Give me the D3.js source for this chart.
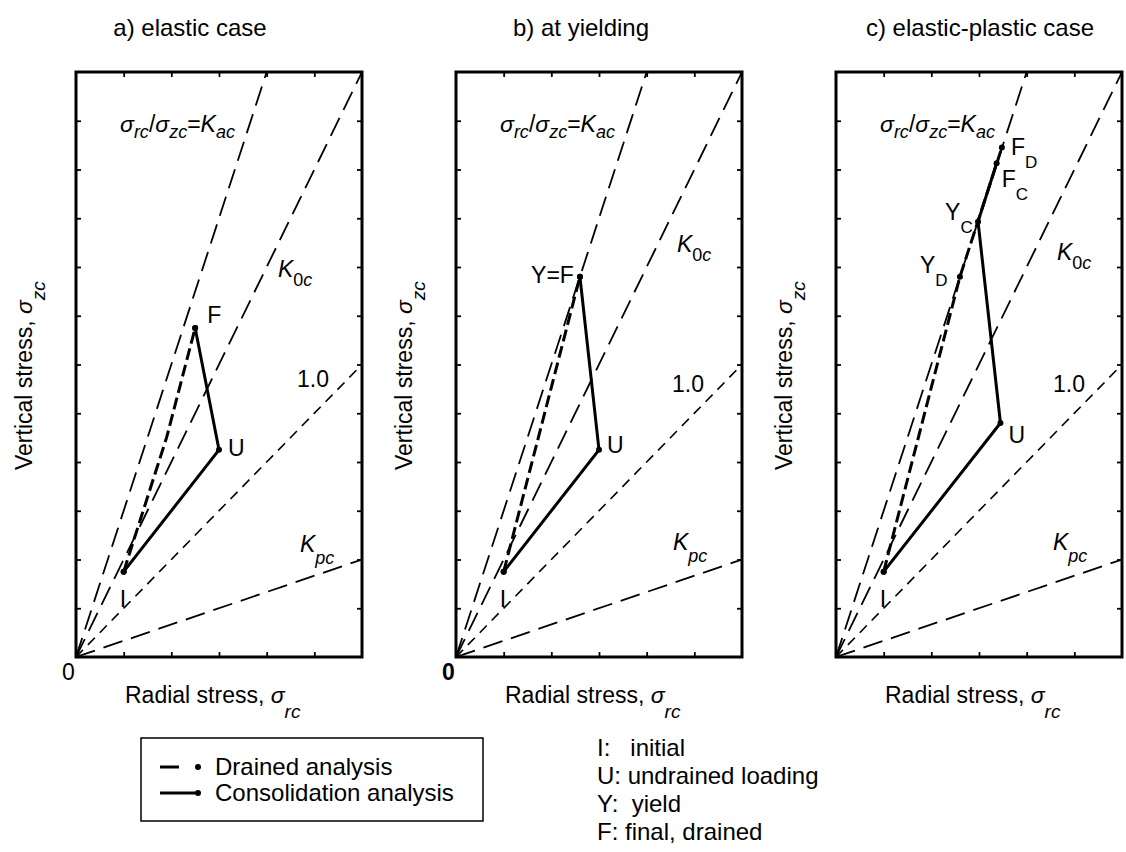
<!DOCTYPE html>
<html>
<head>
<meta charset="utf-8">
<script src="https://cdn.jsdelivr.net/npm/d3@7"></script>
<style>
  html, body { margin: 0; padding: 0; background: #fff; }
  svg { display: block; }
  text { font-family: "Liberation Sans", Arial, Helvetica, sans-serif; fill: #000; }
  .title { font-family: "Liberation Sans Narrow", "Arial Narrow", "Liberation Sans", Arial, sans-serif; }
</style>
</head>
<body>
<svg id="chart" width="1126" height="852"></svg>
<script>
// Panel titles
const panelTitles = ["a) elastic case", "b) at yielding", "c) elastic-plastic case"];

// Axis extents and tick values (stress, arbitrary units)
const xDomain = [0, 6];
const yDomain = [0, 12];
const xTicks = [1, 2, 3, 4, 5];
const yTicks = [1, 2, 3, 4, 5, 6, 7, 8, 9, 10, 11];

// Stress-ratio lines through the origin: slope = sigma_zc / sigma_rc
const ratioNames = ["Kac", "K0c", "one", "Kpc"];
const ratioSlopes = [3, 2, 1, 1 / 3];

// Stress paths [sigma_rc, sigma_zc] for each panel
const drainedA = [[1, 1.75], [1.9, 4.5], [2.5, 6.75]];
const consolA  = [[1, 1.75], [3, 4.25], [2.5, 6.75]];
const drainedB = [[1, 1.75], [2.6, 7.8]];
const consolB  = [[1, 1.75], [3, 4.25], [2.6, 7.8]];
const drainedC = [[1, 1.75], [2.6, 7.8], [3.48, 10.45]];
const consolC  = [[1, 1.75], [3.45, 4.8], [2.98, 8.93], [3.37, 10.13]];

// Key legend entries
const legendNames = ["Drained analysis", "Consolidation analysis"];
const stageNotes = ["I:   initial", "U: undrained loading", "Y:  yield", "F: final, drained"];

const svg = d3.select("#chart");
const W = 286, H = 585;            // plot area size
const panelLeft = [76, 456, 836];
const panelTop = 72;

const x = d3.scaleLinear().domain(xDomain).range([0, W]);
const y = d3.scaleLinear().domain(yDomain).range([H, 0]);

// Writes text made of runs: {t, it (italic), sub (subscript), size}
function richText(sel, parts, opt) {
  const txt = sel.append("text")
    .attr("x", opt.x).attr("y", opt.y)
    .attr("font-size", opt.size)
    .attr("text-anchor", opt.anchor || "start")
    .attr("xml:space", "preserve");
  if (opt.transform) txt.attr("transform", opt.transform);
  let shifted = 0;
  parts.forEach(p => {
    const ts = txt.append("tspan").text(p.t);
    if (p.it) ts.attr("font-style", "italic");
    const want = p.sub ? (p.drop != null ? p.drop : opt.drop) : 0;
    if (want !== shifted) { ts.attr("dy", want - shifted); shifted = want; }
    if (p.sub) ts.attr("font-size", p.size || opt.subSize);
  });
  return txt;
}

const lineStyles = {
  Kac: { dash: "20,9", w: 1.8 },
  K0c: { dash: "20,9", w: 1.8 },
  one: { dash: "10,7", w: 1.6 },
  Kpc: { dash: "20,9", w: 1.8 }
};

const panelData = [
  { drained: drainedA, consol: consolA },
  { drained: drainedB, consol: consolB },
  { drained: drainedC, consol: consolC }
];

const line = d3.line().x(d => x(d[0])).y(d => y(d[1]));

panelData.forEach((pd, i) => {
  const g = svg.append("g").attr("transform", `translate(${panelLeft[i]},${panelTop})`);

  g.append("clipPath").attr("id", "clip" + i)
    .append("rect").attr("width", W).attr("height", H);

  // Ratio lines through the origin, clipped to the frame
  const lg = g.append("g").attr("clip-path", `url(#clip${i})`);
  ratioSlopes.forEach((s, k) => {
    const st = lineStyles[ratioNames[k]];
    const xe = Math.min(xDomain[1], yDomain[1] / s);
    lg.append("path")
      .attr("d", line([[0, 0], [xe, xe * s]]))
      .attr("fill", "none").attr("stroke", "#000")
      .attr("stroke-width", st.w).attr("stroke-dasharray", st.dash);
  });

  // Drained path (thick dashed)
  lg.append("path").attr("d", line(pd.drained))
    .attr("fill", "none").attr("stroke", "#000")
    .attr("stroke-width", 3).attr("stroke-dasharray", "12,5");

  // Consolidation path (thick solid)
  lg.append("path").attr("d", line(pd.consol))
    .attr("fill", "none").attr("stroke", "#000")
    .attr("stroke-width", 3).attr("stroke-linejoin", "round");

  // Node markers
  const nodes = [pd.drained[0], pd.drained[pd.drained.length - 1]].concat(pd.consol);
  if (i === 2) nodes.push(pd.drained[1]);
  lg.selectAll("circle.node").data(nodes).join("circle")
    .attr("class", "node")
    .attr("cx", d => x(d[0])).attr("cy", d => y(d[1])).attr("r", 3);

  // Inward ticks on all four sides
  const tickStyle = a => a.tickSizeInner(-5).tickSizeOuter(0).tickFormat("");
  g.append("g").attr("transform", `translate(0,${H})`).call(tickStyle(d3.axisBottom(x).tickValues(xTicks)));
  g.append("g").call(tickStyle(d3.axisTop(x).tickValues(xTicks)));
  g.append("g").call(tickStyle(d3.axisLeft(y).tickValues(yTicks)));
  g.append("g").attr("transform", `translate(${W},0)`).call(tickStyle(d3.axisRight(y).tickValues(yTicks)));
  g.selectAll(".domain").remove();
  g.selectAll(".tick line").attr("stroke", "#000").attr("stroke-width", 1.8);

  // Frame
  g.append("rect").attr("width", W).attr("height", H)
    .attr("fill", "none").attr("stroke", "#000").attr("stroke-width", 3);

  // Titles
  svg.append("text").attr("class", "title")
    .attr("x", [190, 581, 980][i]).attr("y", 36)
    .attr("text-anchor", "middle").attr("font-size", 24)
    .text(panelTitles[i]);

  // Axis labels
  richText(g, [{ t: "Radial stress, " }, { t: "σ", it: true }, { t: "rc", it: true, sub: true }],
    { x: 49, y: 631, size: 23, subSize: 19, drop: 15 });
  richText(g, [{ t: "Vertical stress, " }, { t: "σ", it: true }, { t: "zc", it: true, sub: true }],
    { x: 0, y: 0, size: 23, subSize: 19, drop: 13, transform: `translate(-44,${H - 187}) rotate(-90)` });

  // Ratio-line labels
  richText(g, [{ t: "σ", it: true }, { t: "rc", it: true, sub: true }, { t: "/" }, { t: "σ", it: true },
               { t: "zc", it: true, sub: true }, { t: "=" }, { t: "K", it: true }, { t: "ac", it: true, sub: true }],
    { x: 44, y: 60, size: 23, subSize: 18, drop: 6 });
  const k0 = [[202, 205], [221, 180], [221, 188]][i];
  richText(g, [{ t: "K", it: true }, { t: "0", sub: true }, { t: "c", it: true, sub: true }],
    { x: k0[0], y: k0[1], size: 23, subSize: 18, drop: 9 });
  const one = [[221, 315], [216, 320], [217, 320]][i];
  g.append("text").attr("x", one[0]).attr("y", one[1]).attr("font-size", 23).text("1.0");
  const kp = [[224, 480], [217, 478], [217, 478]][i];
  richText(g, [{ t: "K", it: true }, { t: "pc", it: true, sub: true }],
    { x: kp[0], y: kp[1], size: 23, subSize: 18, drop: 12 });

  // Origin label
  if (i < 2) {
    g.append("text").attr("x", -14).attr("y", 608).attr("font-size", 23)
      .attr("font-weight", i === 1 ? "bold" : "normal").text("0");
  }

  // Point labels
  const I0 = pd.consol[0];
  g.append("text").attr("x", x(I0[0]) - 4).attr("y", y(I0[1]) + 35).attr("font-size", 23).text("I");
  const U = pd.consol[1];
  const uOff = [[9, 6], [8, 3], [8, 20]][i];
  g.append("text").attr("x", x(U[0]) + uOff[0]).attr("y", y(U[1]) + uOff[1]).attr("font-size", 23).text("U");

  if (i === 0) {
    const F = pd.consol[2];
    g.append("text").attr("x", x(F[0]) + 12).attr("y", y(F[1]) - 5).attr("font-size", 23).text("F");
  } else if (i === 1) {
    const Y = pd.consol[2];
    g.append("text").attr("x", x(Y[0]) - 6).attr("y", y(Y[1]) + 6)
      .attr("text-anchor", "end").attr("font-size", 23).text("Y=F");
  } else {
    const YD = pd.drained[1], FD = pd.drained[2], YC = pd.consol[2], FC = pd.consol[3];
    const lab = (p, dx, dy, main, sub) => richText(g, [{ t: main }, { t: sub, sub: true }],
      { x: x(p[0]) + dx, y: y(p[1]) + dy, size: 23, subSize: 17, drop: 13 });
    lab(FD, 9, 7, "F", "D");
    lab(FC, 5, 24, "F", "C");
    lab(YC, -33, -2, "Y", "C");
    lab(YD, -40, -4, "Y", "D");
  }
});

// Legend box
const lgd = svg.append("g").attr("transform", "translate(141,738)");
lgd.append("rect").attr("width", 342).attr("height", 83)
  .attr("fill", "none").attr("stroke", "#000").attr("stroke-width", 1.5);
legendNames.forEach((name, k) => {
  const yy = 29 + k * 26;
  lgd.append("line").attr("x1", 19).attr("x2", k === 0 ? 38 : 57).attr("y1", yy).attr("y2", yy)
    .attr("stroke", "#000").attr("stroke-width", 3);
  lgd.append("circle").attr("cx", 57).attr("cy", yy).attr("r", 3);
  lgd.append("text").attr("x", 74).attr("y", yy + 8).attr("font-size", 24).text(name);
});

// Stage notes
const notes = svg.append("g");
stageNotes.forEach((t, k) => {
  notes.append("text").attr("x", 597).attr("y", 756 + k * 28).attr("font-size", 24)
    .attr("xml:space", "preserve").style("white-space", "pre").text(t);
});
</script>
</body>
</html>
